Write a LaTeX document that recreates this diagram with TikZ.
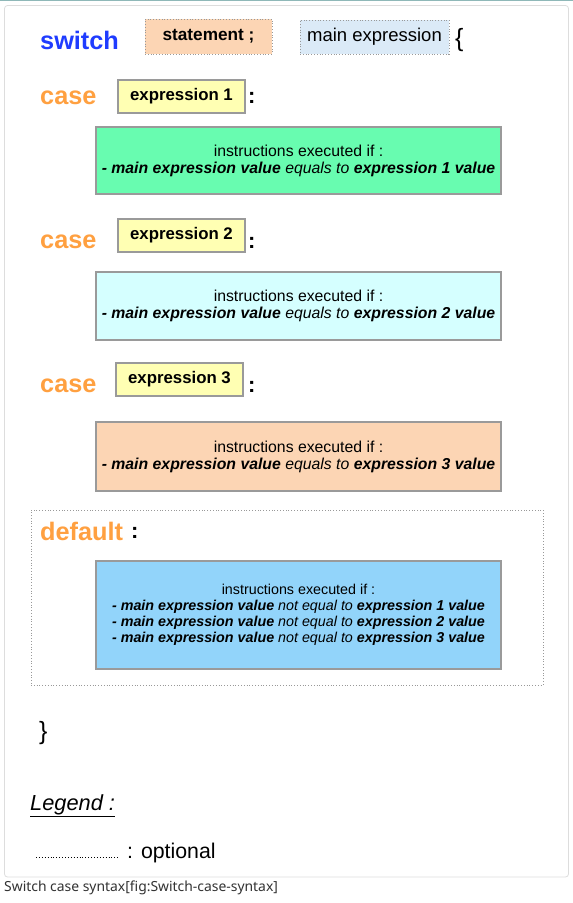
\documentclass[tikz,border=0pt]{standalone}
\usepackage{fontspec}
\setmainfont{Liberation Sans}
\newfontfamily\capfont{Noto Sans}
\definecolor{kwblue}{HTML}{1F3CFF}
\definecolor{kworange}{HTML}{FFA040}
\definecolor{peach}{HTML}{FCD5B4}
\definecolor{lblue}{HTML}{DBEAF7}
\definecolor{lyellow}{HTML}{FFFFB3}
\definecolor{mgreen}{HTML}{68FCB0}
\definecolor{lcyan}{HTML}{D5FFFF}
\definecolor{skyblue}{HTML}{92D4FA}
\definecolor{bordergray}{HTML}{9A9A9A}
\definecolor{framegray}{HTML}{DDDDDD}
\definecolor{teal}{HTML}{8FB8B8}
\newcommand{\fs}[2]{\fontsize{#1}{#2}\selectfont}
\begin{document}
\begin{tikzpicture}[x=1pt,y=-1pt,
  kw/.style={inner sep=0pt,font=\fs{25.3}{28}\bfseries},
  optbox/.style={draw=gray!80,dotted,line width=0.8pt,inner sep=0pt},
  exprbox/.style={draw=bordergray,line width=1.2pt,fill=lyellow,inner sep=0pt,minimum width=127pt,minimum height=33pt,font=\fs{16.8}{19}\bfseries},
  instbox/.style={draw=bordergray,line width=1.2pt,inner sep=0pt,minimum width=405pt,align=center},
  punct/.style={inner sep=0pt,font=\fs{22}{26}\bfseries},
]
\useasboundingbox (0,0) rectangle (573,903);
\fill[white] (0,0) rectangle (573,903);
\draw[teal,line width=1.2pt] (0,0.6) -- (573,0.6);
\draw[framegray,line width=0.8pt,rounded corners=3pt] (4.5,5.5) rectangle (568.5,877);

\node[kw,text=kwblue,anchor=west] (sw) at (40,40) {switch};
\node[optbox,fill=peach,minimum width=127pt,minimum height=35pt,font=\fs{17.2}{20}\bfseries] (stmt) at (208.5,36.5) {statement ;};
\node[optbox,fill=lblue,minimum width=149pt,minimum height=34pt,font=\fs{18.5}{21}] (mexpr) at (374.5,37) {main expression};
\node[inner sep=0pt,font=\fs{25}{28},anchor=west] (lbrace) at (455,40) {\{};

\node[kw,text=kworange,anchor=west] (case1) at (40,97.5) {case};
\node[exprbox] (e1) at (181.5,96.5) {expression 1};
\node[punct,anchor=west] (c1) at (248,98) {:};
\node[instbox,fill=mgreen,minimum height=67pt,font=\fs{15.8}{17}] (b1) at (298.5,160.5)
  {instructions executed if :\\ \textbf{\textit{- main expression value}} \textit{equals to} \textbf{\textit{expression 1 value}}};

\node[kw,text=kworange,anchor=west] (case2) at (40,242) {case};
\node[exprbox] (e2) at (181.5,235.5) {expression 2};
\node[punct,anchor=west] (c2) at (248,243) {:};
\node[instbox,fill=lcyan,minimum height=68pt,font=\fs{15.8}{17}] (b2) at (298.5,306)
  {instructions executed if :\\ \textbf{\textit{- main expression value}} \textit{equals to} \textbf{\textit{expression 2 value}}};

\node[kw,text=kworange,anchor=west] (case3) at (40,386) {case};
\node[exprbox] (e3) at (179.5,379.5) {expression 3};
\node[punct,anchor=west] (c3) at (248,387) {:};
\node[instbox,fill=peach,minimum height=69pt,font=\fs{15.8}{17}] (b3) at (298.5,456.5)
  {instructions executed if :\\ \textbf{\textit{- main expression value}} \textit{equals to} \textbf{\textit{expression 3 value}}};

\node[optbox,minimum width=512pt,minimum height=175pt] (dflt) at (287,597.5) {};
\node[kw,text=kworange,anchor=west] (dkw) at (40,531) {default};
\node[punct,anchor=west] (dc) at (131,533) {:};
\node[instbox,fill=skyblue,minimum height=108pt,font=\fs{14.3}{16}] (b4) at (298.5,615)
  {instructions executed if :\\
   \textbf{\textit{- main expression value}} \textit{not equal to} \textbf{\textit{expression 1 value}}\\
   \textbf{\textit{- main expression value}} \textit{not equal to} \textbf{\textit{expression 2 value}}\\
   \textbf{\textit{- main expression value}} \textit{not equal to} \textbf{\textit{expression 3 value}}};

\node[inner sep=0pt,font=\fs{25}{28},anchor=west] (rbrace) at (39,733) {\}};

\node[inner sep=0pt,font=\fs{21.8}{25}\itshape,anchor=west] (leg) at (30,806) {\underline{Legend :}};
\coordinate (d1) at (36,857);
\coordinate (d2) at (118,857);
\draw[dotted,line width=0.9pt] (d1) -- (d2);
\node[inner sep=0pt,font=\fs{21.3}{25},anchor=west] (opt) at (127,853) {: optional};

\node[inner sep=0pt,font=\capfont\fs{13.9}{16},text=black!80,anchor=west] (cap) at (4,888) {Switch case syntax[fig:Switch-case-syntax]};
\end{tikzpicture}
\end{document}
